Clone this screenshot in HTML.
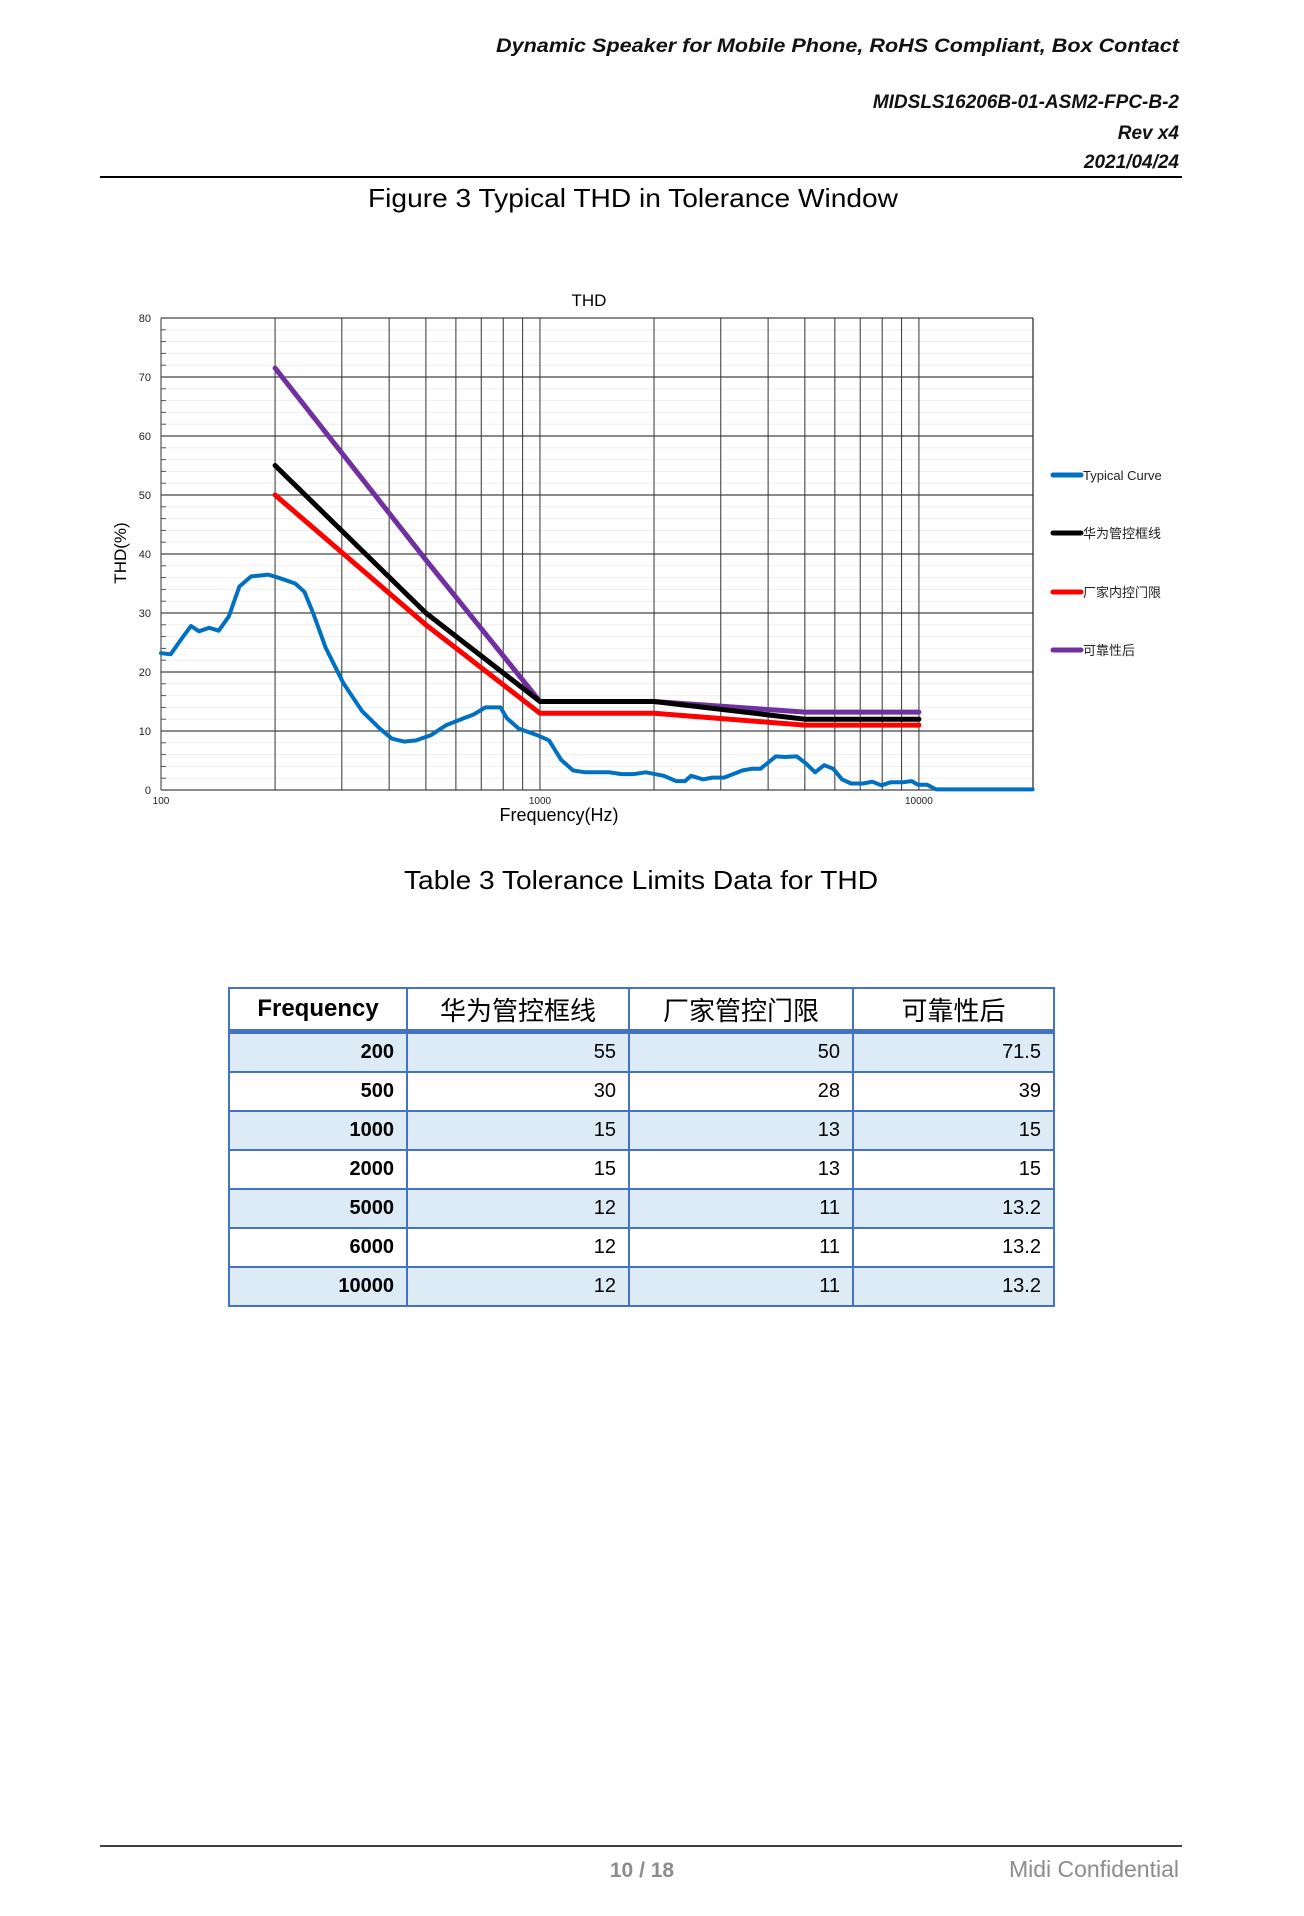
<!DOCTYPE html>
<html><head><meta charset="utf-8"><style>
body{margin:0;background:#fff;}
#page{position:relative;width:1304px;height:1916px;overflow:hidden;background:#fff;font-family:"Liberation Sans","Noto Sans CJK SC",sans-serif;}
svg text{font-family:"Liberation Sans","Noto Sans CJK SC",sans-serif;}
#tbl{position:absolute;left:228px;top:987px;width:825px;border-collapse:collapse;table-layout:fixed;}
#tbl td,#tbl th{border:2px solid #4472C4;padding:0 12px;font-size:20px;color:#000;}
#tbl th{height:40px;font-size:26px;font-weight:normal;text-align:center;border-bottom:5px solid #4472C4;}
#tbl th.f{font-weight:bold;font-size:24px;}
#tbl td{height:37px;text-align:right;}
#tbl td.f{font-weight:bold;}
#tbl tr.alt td{background:#DDEBF7;}
</style></head><body>
<div id="page">
<svg id="chrome" width="1304" height="1916" style="position:absolute;left:0;top:0">
<g font-style="italic" font-weight="bold" font-size="19" text-anchor="end" fill="#111">
<text x="1179" y="52" textLength="683" lengthAdjust="spacingAndGlyphs">Dynamic  Speaker  for  Mobile  Phone,  RoHS  Compliant,  Box  Contact</text>
<text x="1179" y="108">MIDSLS16206B-01-ASM2-FPC-B-2</text>
<text x="1179" y="139">Rev  x4</text>
<text x="1179" y="168">2021/04/24</text>
</g>
<line x1="100" y1="177" x2="1182" y2="177" stroke="#000" stroke-width="2"/>
<text x="633" y="207" font-size="26" text-anchor="middle" textLength="530" lengthAdjust="spacingAndGlyphs">Figure 3 Typical THD in Tolerance Window</text>
<text x="641" y="889" font-size="26" text-anchor="middle" textLength="474" lengthAdjust="spacingAndGlyphs">Table 3 Tolerance Limits Data for THD</text>
<line x1="100" y1="1846" x2="1182" y2="1846" stroke="#000" stroke-width="1.5"/>
<text x="642" y="1877" font-size="21" font-weight="bold" fill="#8c8c8c" text-anchor="middle">10  /  18</text>
<text x="1179" y="1877" font-size="23" fill="#8c8c8c" text-anchor="end">Midi  Confidential</text>
</svg>
<svg id="chart" width="1304" height="900" style="position:absolute;left:0;top:0"></svg>
<table id="tbl">
<colgroup><col style="width:178px"><col style="width:222px"><col style="width:224px"><col style="width:201px"></colgroup>
<tr><th class="f">Frequency</th><th>华为管控框线</th><th>厂家管控门限</th><th>可靠性后</th></tr>
<tr class="alt"><td class="f">200</td><td>55</td><td>50</td><td>71.5</td></tr>
<tr><td class="f">500</td><td>30</td><td>28</td><td>39</td></tr>
<tr class="alt"><td class="f">1000</td><td>15</td><td>13</td><td>15</td></tr>
<tr><td class="f">2000</td><td>15</td><td>13</td><td>15</td></tr>
<tr class="alt"><td class="f">5000</td><td>12</td><td>11</td><td>13.2</td></tr>
<tr><td class="f">6000</td><td>12</td><td>11</td><td>13.2</td></tr>
<tr class="alt"><td class="f">10000</td><td>12</td><td>11</td><td>13.2</td></tr>
</table>
</div>
<script>
const typicalFreq=[100,106,115,120,126,134,142,151,161,173,192,206,226,239,252,272,303,339,378,407,438,471,516,566,632,668,718,787,817,879,982,1057,1138,1224,1318,1525,1641,1767,1901,2123,2286,2415,2505,2697,2851,3062,3420,3614,3820,4188,4426,4764,5035,5321,5623,5943,6266,6622,7129,7534,7962,8414,9057,9572,9931,10495,11092,19953];
const typicalThd=[23.2,23,26.2,27.8,26.9,27.5,27,29.4,34.5,36.2,36.5,35.9,35,33.6,30,24.1,18.1,13.4,10.4,8.7,8.2,8.4,9.3,11,12.2,12.8,14,14,12.2,10.4,9.3,8.4,5.1,3.3,3,3,2.7,2.7,3,2.4,1.5,1.5,2.4,1.8,2.1,2.1,3.3,3.6,3.6,5.7,5.6,5.7,4.5,3,4.2,3.6,1.8,1.1,1.1,1.4,0.8,1.3,1.3,1.5,0.9,0.9,0.1,0.1];
const limitFreq=[200,500,1000,2000,5000,6000,10000];
const huaweiLimit=[55,30,15,15,12,12,12];
const vendorLimit=[50,28,13,13,11,11,11];
const reliabilityLimit=[71.5,39,15,15,13.2,13.2,13.2];
const yTicks=[0,10,20,30,40,50,60,70,80];
const xTickLabels=["100","1000","10000"];
const seriesNames=["Typical Curve","华为管控框线","厂家内控门限","可靠性后"];

const NS="http://www.w3.org/2000/svg";
const svg=document.getElementById('chart');
const L=161,R=1033,T=318,B=790,fMin=100,fMax=20000,yMax=80;
const xs=f=>L+(Math.log10(f)-Math.log10(fMin))/(Math.log10(fMax)-Math.log10(fMin))*(R-L);
const ys=v=>B-v/yMax*(B-T);
function mk(tag,attrs,parent){const e=document.createElementNS(NS,tag);for(const k in attrs)e.setAttribute(k,attrs[k]);(parent||svg).appendChild(e);return e;}

const grid=mk('g',{});


for(let v=2;v<80;v+=2){if(v%10===0)continue;
 const t=mk('line',{x1:L,x2:L+5,y1:ys(v),y2:ys(v),stroke:'#555','stroke-width':1},grid);
 
 
 const g2=mk('line',{x1:L+5,x2:R,y1:ys(v),y2:ys(v),stroke:'#eee','stroke-width':1},grid);
 
 }
yTicks.forEach(v=>{
 const l=mk('line',{x1:L,x2:R,y1:ys(v),y2:ys(v),stroke:'#444','stroke-width':1.3},grid);
 
 
 const t=mk('text',{x:L-10,y:ys(v)+4,'font-size':11,'text-anchor':'end',fill:'#222'},grid);
 t.textContent=v;
 
 
});
for(let d=100;d<20000;d*=10){for(let m=1;m<10;m++){const f=d*m;if(f>fMax)break;
 const l=mk('line',{x1:xs(f),x2:xs(f),y1:T,y2:B,stroke:'#333','stroke-width':1},grid);
 
 }}
const rb=mk('line',{x1:R,x2:R,y1:T,y2:B,stroke:'#333','stroke-width':1.3},grid);


xTickLabels.forEach(s=>{
 const t=mk('text',{x:xs(+s),y:B+14,'font-size':10,'text-anchor':'middle',fill:'#222'},grid);
 t.textContent=s;
 
 
});
const tt=mk('text',{x:589,y:306,'font-size':17,'text-anchor':'middle'});
tt.textContent='THD';


const xt=mk('text',{x:559,y:821,'font-size':18,'text-anchor':'middle'});
xt.textContent='Frequency(Hz)';


const yt=mk('text',{x:0,y:0,'font-size':17,'text-anchor':'middle',transform:'translate(126,553) rotate(-90)'});
yt.textContent='THD(%)';



function series(fr,vals,color,w,name){
 const p=mk('polyline',{points:fr.map((f,i)=>xs(f).toFixed(1)+','+ys(vals[i]).toFixed(1)).join(' '),fill:'none',stroke:color,'stroke-width':w,'stroke-linejoin':'round','stroke-linecap':'round'});
 
 
}
series(limitFreq,reliabilityLimit,'#7030A0',5,'reliability-line');
series(limitFreq,huaweiLimit,'#000000',5,'huawei-limit-line');
series(limitFreq,vendorLimit,'#FF0000',5,'vendor-limit-line');
series(typicalFreq,typicalThd,'#0070C0',4,'typical-curve-line');

const colors=['#0070C0','#000000','#FF0000','#7030A0'];
const ly=[475,533,592,650];
seriesNames.forEach((n,i)=>{
 const g=mk('g',{});
 
 
 mk('line',{x1:1053,x2:1081,y1:ly[i],y2:ly[i],stroke:colors[i],'stroke-width':5,'stroke-linecap':'round'},g);
 const t=mk('text',{x:1083,y:ly[i]+5,'font-size':13,fill:'#222'},g);
 t.textContent=n;
});
</script>
</body></html>
